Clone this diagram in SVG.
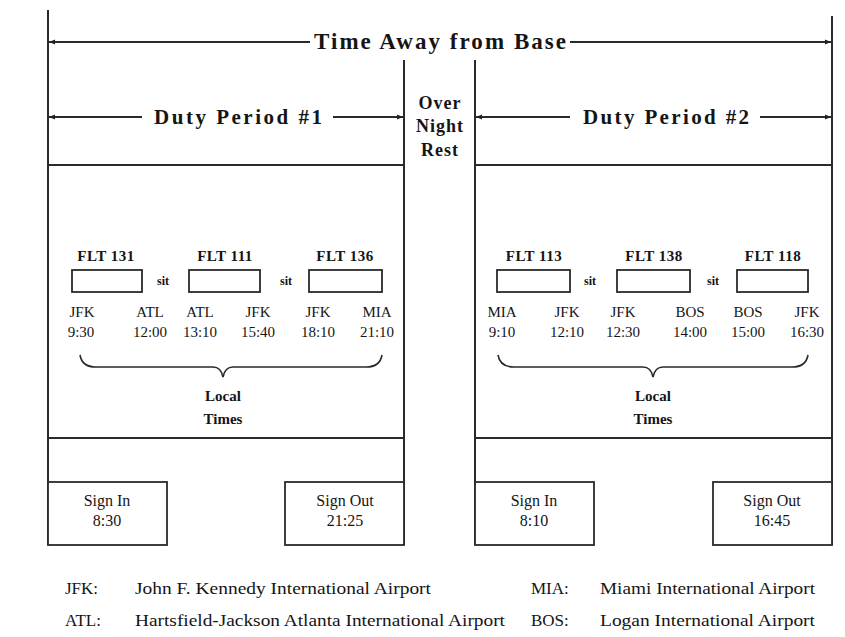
<svg xmlns="http://www.w3.org/2000/svg" width="845" height="637" viewBox="0 0 845 637">
<defs>
<marker id="ah" viewBox="0 0 10 10" refX="10" refY="5" markerWidth="8" markerHeight="6" markerUnits="userSpaceOnUse" orient="auto-start-reverse">
<path d="M0,1 L10,5 L0,9 z" fill="#222"/>
</marker>
<style>
.ln{stroke:#2a2a2a;stroke-width:2;fill:none}
.thin{stroke:#2a2a2a;stroke-width:1.6;fill:none}
.box{stroke:#2a2a2a;stroke-width:1.8;fill:#fff}
.hd{font-family:"Liberation Serif","Times New Roman",serif;font-weight:bold;fill:#151515}
.flt{font-family:"Liberation Serif","Times New Roman",serif;font-weight:bold;font-size:15px;fill:#151515;text-anchor:middle}
.ap{font-family:"Liberation Serif","Times New Roman",serif;font-size:15px;fill:#151515;text-anchor:middle}
.sit{font-family:"Liberation Serif","Times New Roman",serif;font-weight:bold;font-size:12px;fill:#151515;text-anchor:middle}
.sg{font-family:"Liberation Serif","Times New Roman",serif;font-size:16px;fill:#151515;text-anchor:middle}
.lg{font-family:"Liberation Serif","Times New Roman",serif;font-size:17px;fill:#151515}
</style>
</defs>
<rect width="845" height="637" fill="#fff"/>

<g id="frame">
<line class="ln" x1="48" y1="10" x2="48" y2="545"/>
<line class="ln" x1="832" y1="16" x2="832" y2="545"/>
<line class="ln" x1="404" y1="60" x2="404" y2="545"/>
<line class="ln" x1="475" y1="60" x2="475" y2="545"/>
<line class="ln" x1="48" y1="165" x2="404" y2="165"/>
<line class="ln" x1="475" y1="165" x2="832" y2="165"/>
<line class="ln" x1="48" y1="438" x2="404" y2="438"/>
<line class="ln" x1="475" y1="438" x2="832" y2="438"/>
</g>

<g id="connectors">
<line class="ln" x1="310" y1="42" x2="49" y2="42" marker-end="url(#ah)"/>
<line class="ln" x1="570" y1="42" x2="831" y2="42" marker-end="url(#ah)"/>
<line class="ln" x1="142" y1="117" x2="49" y2="117" marker-end="url(#ah)"/>
<line class="ln" x1="333" y1="117" x2="403" y2="117" marker-end="url(#ah)"/>
<line class="ln" x1="570" y1="117" x2="476" y2="117" marker-end="url(#ah)"/>
<line class="ln" x1="760" y1="117" x2="831" y2="117" marker-end="url(#ah)"/>
</g>

<g id="title">
<text class="hd" x="440" y="49" font-size="23" text-anchor="middle" textLength="252" lengthAdjust="spacing">Time Away from Base</text>
</g>
<g id="duty1-label">
<text class="hd" x="238" y="124" font-size="21" text-anchor="middle" textLength="168" lengthAdjust="spacing">Duty Period #1</text>
</g>
<g id="duty2-label">
<text class="hd" x="666" y="124" font-size="21" text-anchor="middle" textLength="166" lengthAdjust="spacing">Duty Period #2</text>
</g>
<g id="overnight">
<text class="hd" font-size="18" text-anchor="middle" letter-spacing="1"><tspan x="440" y="109">Over</tspan><tspan x="440" y="132">Night</tspan><tspan x="440" y="156">Rest</tspan></text>
</g>

<g id="duty1-flights">
<text class="flt" x="106" y="261" letter-spacing="0.5">FLT 131</text>
<text class="flt" x="225" y="261" letter-spacing="0.5">FLT 111</text>
<text class="flt" x="345" y="261" letter-spacing="0.5">FLT 136</text>
<rect class="box" x="72" y="270" width="70" height="22"/>
<rect class="box" x="189" y="270" width="71" height="22"/>
<rect class="box" x="309" y="270" width="73" height="22"/>
<text class="sit" x="163" y="285">sit</text>
<text class="sit" x="286" y="285">sit</text>
<text class="ap" x="82" y="317">JFK</text>
<text class="ap" x="150" y="317">ATL</text>
<text class="ap" x="200" y="317">ATL</text>
<text class="ap" x="258" y="317">JFK</text>
<text class="ap" x="318" y="317">JFK</text>
<text class="ap" x="377" y="317">MIA</text>
<text class="ap" x="81" y="337">9:30</text>
<text class="ap" x="150" y="337">12:00</text>
<text class="ap" x="200" y="337">13:10</text>
<text class="ap" x="258" y="337">15:40</text>
<text class="ap" x="318" y="337">18:10</text>
<text class="ap" x="377" y="337">21:10</text>
<path class="thin" d="M80,355 Q82,367 96,367 L213,367 Q221,367 223,377 Q225,367 233,367 L366,367 Q380,367 382,355"/>
<text class="flt" x="223" y="401">Local</text>
<text class="flt" x="223" y="424">Times</text>
</g>

<g id="duty2-flights">
<text class="flt" x="534" y="261" letter-spacing="0.5">FLT 113</text>
<text class="flt" x="654" y="261" letter-spacing="0.5">FLT 138</text>
<text class="flt" x="773" y="261" letter-spacing="0.5">FLT 118</text>
<rect class="box" x="497" y="270" width="73" height="22"/>
<rect class="box" x="617" y="270" width="73" height="22"/>
<rect class="box" x="737" y="270" width="71" height="22"/>
<text class="sit" x="590" y="285">sit</text>
<text class="sit" x="713" y="285">sit</text>
<text class="ap" x="502" y="317">MIA</text>
<text class="ap" x="567" y="317">JFK</text>
<text class="ap" x="623" y="317">JFK</text>
<text class="ap" x="690" y="317">BOS</text>
<text class="ap" x="748" y="317">BOS</text>
<text class="ap" x="807" y="317">JFK</text>
<text class="ap" x="502" y="337">9:10</text>
<text class="ap" x="567" y="337">12:10</text>
<text class="ap" x="623" y="337">12:30</text>
<text class="ap" x="690" y="337">14:00</text>
<text class="ap" x="748" y="337">15:00</text>
<text class="ap" x="807" y="337">16:30</text>
<path class="thin" d="M498,355 Q500,367 514,367 L643,367 Q651,367 653,377 Q655,367 663,367 L792,367 Q806,367 808,355"/>
<text class="flt" x="653" y="401">Local</text>
<text class="flt" x="653" y="424">Times</text>
</g>

<g id="signin1">
<rect class="box" x="48" y="482" width="119" height="63"/>
<text class="sg" x="107" y="506">Sign In</text>
<text class="sg" x="107" y="526">8:30</text>
</g>
<g id="signout1">
<rect class="box" x="285" y="482" width="119" height="63"/>
<text class="sg" x="345" y="506">Sign Out</text>
<text class="sg" x="345" y="526">21:25</text>
</g>
<g id="signin2">
<rect class="box" x="475" y="482" width="119" height="63"/>
<text class="sg" x="534" y="506">Sign In</text>
<text class="sg" x="534" y="526">8:10</text>
</g>
<g id="signout2">
<rect class="box" x="713" y="482" width="119" height="63"/>
<text class="sg" x="772" y="506">Sign Out</text>
<text class="sg" x="772" y="526">16:45</text>
</g>

<g id="legend">
<text class="lg" x="65" y="594">JFK:</text>
<text class="lg" x="135" y="594" textLength="296" lengthAdjust="spacingAndGlyphs">John F. Kennedy International Airport</text>
<text class="lg" x="531" y="594">MIA:</text>
<text class="lg" x="600" y="594" textLength="215" lengthAdjust="spacingAndGlyphs">Miami International Airport</text>
<text class="lg" x="65" y="626">ATL:</text>
<text class="lg" x="135" y="626" textLength="370" lengthAdjust="spacingAndGlyphs">Hartsfield-Jackson Atlanta International Airport</text>
<text class="lg" x="531" y="626">BOS:</text>
<text class="lg" x="600" y="626" textLength="215" lengthAdjust="spacingAndGlyphs">Logan International Airport</text>
</g>
</svg>
